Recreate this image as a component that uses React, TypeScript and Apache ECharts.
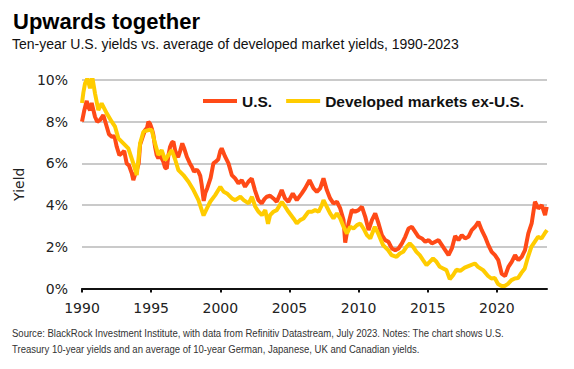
import React, { useEffect, useRef } from "react";
import * as echarts from "echarts";

// U.S. 10-year yield (%)
const usYears = [
  1990.0, 1990.15, 1990.34, 1990.45, 1990.58, 1990.7, 1990.94, 1991.1, 1991.3, 1991.54, 1991.79, 1991.95,
  1992.15, 1992.35, 1992.51, 1992.7, 1992.87, 1993.05, 1993.23, 1993.4, 1993.6, 1993.71, 1993.85, 1993.96,
  1994.1, 1994.2, 1994.4, 1994.56, 1994.7, 1994.8, 1994.92, 1995.04, 1995.15, 1995.28, 1995.4, 1995.52,
  1995.65, 1995.88, 1996.0, 1996.13, 1996.25, 1996.37, 1996.5, 1996.61, 1996.73, 1996.85, 1996.95, 1997.1,
  1997.25, 1997.4, 1997.58, 1997.8, 1997.94, 1998.1, 1998.3, 1998.42, 1998.55, 1998.65, 1998.8, 1998.92,
  1999.05, 1999.3, 1999.5, 1999.7, 1999.85, 2000.0, 2000.1, 2000.35, 2000.59, 2000.83, 2001.07, 2001.31,
  2001.55, 2001.79, 2002.03, 2002.27, 2002.5, 2002.75, 2002.99, 2003.2, 2003.36, 2003.6, 2003.84, 2004.08,
  2004.44, 2004.68, 2004.92, 2005.24, 2005.53, 2005.89, 2006.13, 2006.45, 2006.74, 2006.98, 2007.22, 2007.46,
  2007.7, 2007.94, 2008.18, 2008.43, 2008.67, 2008.91, 2009.03, 2009.27, 2009.51, 2009.75, 2009.99, 2010.24,
  2010.48, 2010.72, 2010.96, 2011.2, 2011.44, 2011.68, 2011.92, 2012.16, 2012.4, 2012.65, 2012.89, 2013.13,
  2013.37, 2013.61, 2013.85, 2014.09, 2014.33, 2014.58, 2014.82, 2015.06, 2015.3, 2015.54, 2015.78, 2016.02,
  2016.26, 2016.5, 2016.74, 2016.98, 2017.22, 2017.46, 2017.7, 2017.94, 2018.18, 2018.42, 2018.66, 2018.9,
  2019.14, 2019.38, 2019.62, 2019.86, 2020.1, 2020.35, 2020.59, 2020.83, 2021.07, 2021.31, 2021.55, 2021.79,
  2022.03, 2022.27, 2022.51, 2022.75, 2022.99, 2023.24, 2023.48, 2023.6,
];
const usYield = [
  8.0, 8.5, 9.0, 8.7, 8.55, 8.9, 8.24, 8.0, 8.08, 8.32, 7.76, 7.4,
  7.28, 7.3, 6.8, 6.4, 6.48, 6.6, 6.0, 5.9, 5.52, 5.2, 5.5, 5.68,
  6.0, 6.9, 7.3, 7.6, 7.7, 8.0, 7.9, 7.68, 7.4, 6.8, 6.4, 6.24,
  6.4, 6.08, 5.8, 5.76, 6.4, 6.8, 7.0, 7.04, 6.64, 6.4, 6.3, 6.6,
  6.96, 6.7, 6.32, 6.0, 5.84, 5.6, 5.7, 5.6, 5.4, 5.0, 4.2, 4.6,
  4.8, 5.3, 6.0, 6.1, 6.2, 6.6, 6.72, 6.32, 6.0, 5.44, 5.28, 5.04,
  5.2, 4.88, 5.12, 5.28, 4.72, 4.24, 4.08, 4.3, 4.4, 4.45, 4.32, 4.16,
  4.72, 4.32, 4.16, 4.56, 4.24, 4.56, 4.8, 5.2, 4.8, 4.64, 4.8, 5.28,
  4.72, 4.32, 4.08, 4.16, 3.84, 3.28, 2.2, 3.12, 3.76, 3.68, 3.76, 3.92,
  3.44, 2.8, 3.28, 3.6, 3.12, 2.56, 2.32, 2.24, 1.92, 1.84, 1.92, 2.16,
  2.48, 2.88, 2.96, 2.72, 2.48, 2.4, 2.24, 2.32, 2.16, 2.24, 2.32, 2.08,
  1.84, 1.6, 1.92, 2.52, 2.32, 2.56, 2.4, 2.48, 2.8, 2.96, 3.2, 2.8,
  2.48, 2.08, 1.76, 1.6, 1.36, 0.7, 0.6, 1.04, 1.28, 1.6, 1.36, 1.52,
  1.84, 2.64, 3.12, 4.16, 3.84, 4.0, 3.52, 3.92,
];

// Average of German, Japanese, UK and Canadian 10-year yields (%)
const dmYears = [
  1990.0, 1990.1, 1990.22, 1990.39, 1990.58, 1990.74, 1990.94, 1991.18, 1991.42, 1991.79, 1992.15, 1992.39,
  1992.63, 1992.99, 1993.35, 1993.71, 1993.96, 1994.2, 1994.44, 1994.8, 1995.04, 1995.28, 1995.52, 1995.76,
  1996.01, 1996.25, 1996.49, 1996.73, 1996.97, 1997.33, 1997.7, 1998.06, 1998.42, 1998.79, 1999.03, 1999.27,
  1999.63, 2000.0, 2000.24, 2000.48, 2000.84, 2001.08, 2001.45, 2001.69, 2002.05, 2002.29, 2002.53, 2002.77,
  2003.01, 2003.25, 2003.45, 2003.6, 2003.84, 2004.08, 2004.45, 2004.69, 2004.93, 2005.29, 2005.53, 2005.77,
  2006.01, 2006.37, 2006.62, 2006.86, 2007.1, 2007.34, 2007.46, 2007.7, 2007.94, 2008.18, 2008.43, 2008.67,
  2008.91, 2009.16, 2009.39, 2009.63, 2009.88, 2010.12, 2010.35, 2010.6, 2010.84, 2011.17, 2011.41, 2011.77,
  2012.13, 2012.38, 2012.74, 2012.98, 2013.22, 2013.46, 2013.7, 2013.94, 2014.18, 2014.42, 2014.66, 2014.91,
  2015.14, 2015.38, 2015.63, 2015.87, 2016.11, 2016.35, 2016.59, 2016.83, 2017.07, 2017.35, 2017.67, 2018.03,
  2018.4, 2018.63, 2019.0, 2019.36, 2019.6, 2019.84, 2020.08, 2020.33, 2020.56, 2020.8, 2021.05, 2021.29,
  2021.52, 2021.77, 2022.01, 2022.25, 2022.49, 2022.73, 2022.97, 2023.22, 2023.45, 2023.62,
];
const dmYield = [
  8.9, 9.4, 9.84, 10.08, 9.6, 10.16, 9.36, 8.56, 8.88, 8.4, 8.0, 7.76,
  7.2, 6.96, 6.72, 6.0, 5.44, 6.96, 7.52, 7.6, 7.6, 6.96, 6.4, 6.64,
  6.16, 6.4, 6.64, 6.2, 5.68, 5.44, 5.12, 4.72, 4.24, 3.5, 3.84, 4.16,
  4.48, 4.88, 4.64, 4.56, 4.32, 4.24, 4.4, 4.24, 4.08, 4.4, 3.92, 3.68,
  3.52, 3.76, 3.1, 3.52, 3.68, 3.76, 4.16, 3.92, 3.68, 3.36, 3.12, 3.28,
  3.36, 3.68, 3.68, 3.76, 3.68, 4.0, 4.24, 3.92, 3.6, 3.36, 3.6, 3.36,
  2.96, 2.64, 2.96, 2.88, 3.04, 3.12, 2.88, 2.56, 2.4, 2.96, 2.64, 2.08,
  1.84, 1.6, 1.52, 1.68, 1.76, 2.0, 2.16, 2.0, 1.76, 1.6, 1.36, 1.12,
  1.28, 1.44, 1.28, 1.04, 0.96, 0.88, 0.45, 0.64, 0.9, 0.85, 1.0, 1.1,
  1.2, 1.04, 0.88, 0.6, 0.48, 0.5, 0.22, 0.12, 0.12, 0.22, 0.4, 0.48,
  0.5, 0.75, 0.96, 1.52, 2.0, 2.24, 2.48, 2.4, 2.64, 2.8,
];

const yearTicks = [1990, 1995, 2000, 2005, 2010, 2015, 2020];

const titleText = "Upwards together";
const subtitleText = "Ten-year U.S. yields vs. average of developed market yields, 1990-2023";
const sourceLine1 =
  "Source: BlackRock Investment Institute, with data from Refinitiv Datastream, July 2023. Notes: The chart shows U.S.";
const sourceLine2 = "Treasury 10-year yields and an average of 10-year German, Japanese, UK and Canadian yields.";

const US_COLOR = "#FF4A17";
const DM_COLOR = "#FFCC00";

export default function App() {
  const ref = useRef<HTMLDivElement>(null);

  useEffect(() => {
    document.body.style.margin = "0";
    if (!ref.current) return;
    const chart = echarts.init(ref.current, undefined, { renderer: "svg" });
    const usData = usYears.map((y, i) => [y, usYield[i]]);
    const dmData = dmYears.map((y, i) => [y, dmYield[i]]);
    const axisFont = "DejaVu Sans";
    chart.setOption({
      animation: false,
      backgroundColor: "#ffffff",
      grid: { left: 82, right: 27, top: 80, bottom: 80.5, containLabel: false },
      legend: {
        left: 198,
        top: 88,
        itemWidth: 34,
        itemHeight: 4,
        itemGap: 14,
        icon: "rect",
        textStyle: { fontFamily: "Liberation Sans", fontWeight: "bold", fontSize: 15.5, color: "#111" },
        data: ["U.S.", "Developed markets ex-U.S."],
      },
      xAxis: {
        type: "value",
        min: 1990,
        max: 2023.62,
        interval: 5,
        axisLine: { show: true, lineStyle: { color: "#111", width: 2 } },
        axisTick: { show: true, length: 4, lineStyle: { color: "#111", width: 2 }, customValues: yearTicks },
        axisLabel: {
          customValues: yearTicks,
          margin: 12,
          fontFamily: axisFont,
          fontSize: 14,
          color: "#222",
          formatter: (v: number) => String(Math.round(v)),
        },
        splitLine: { show: false },
      },
      yAxis: {
        type: "value",
        min: 0,
        max: 10,
        interval: 2,
        name: "Yield",
        nameLocation: "middle",
        nameRotate: 90,
        nameGap: 53,
        nameTextStyle: { fontFamily: axisFont, fontSize: 14, color: "#222" },
        axisLine: { show: false },
        axisTick: { show: false },
        axisLabel: { margin: 14, fontFamily: axisFont, fontSize: 14, color: "#222", formatter: "{value}%" },
        splitLine: { show: true, lineStyle: { color: "#b8b8b8", width: 1.5 } },
      },
      series: [
        {
          name: "U.S.",
          type: "line",
          data: usData,
          showSymbol: false,
          symbol: "none",
          lineStyle: { color: US_COLOR, width: 4 },
          itemStyle: { color: US_COLOR },
        },
        {
          name: "Developed markets ex-U.S.",
          type: "line",
          data: dmData,
          showSymbol: false,
          symbol: "none",
          lineStyle: { color: DM_COLOR, width: 4 },
          itemStyle: { color: DM_COLOR },
        },
      ],
      graphic: [
        {
          type: "text",
          left: 13,
          top: 10,
          style: { text: titleText, fontFamily: "Liberation Sans", fontWeight: "bold", fontSize: 22, fill: "#000" },
        },
        {
          type: "text",
          left: 12,
          top: 37,
          style: { text: subtitleText, fontFamily: "Liberation Sans", fontSize: 14, fill: "#111" },
        },
        {
          type: "text",
          x: 12,
          y: 327,
          scaleX: 0.83,
          style: { text: sourceLine1, fontFamily: "Liberation Sans", fontSize: 11.5, fill: "#333" },
        },
        {
          type: "text",
          x: 12,
          y: 343,
          scaleX: 0.83,
          style: { text: sourceLine2, fontFamily: "Liberation Sans", fontSize: 11.5, fill: "#333" },
        },
      ],
    });
    return () => chart.dispose();
  }, []);

  return <div ref={ref} style={{ width: 574, height: 369 }} />;
}
